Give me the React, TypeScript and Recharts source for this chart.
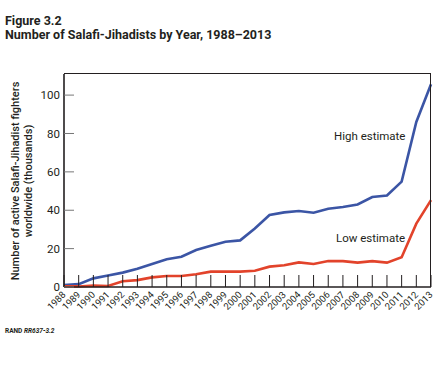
import React from "react";
import { LineChart, Line, XAxis, YAxis } from "recharts";

const years = [
  "1988", "1989", "1990", "1991", "1992", "1993", "1994", "1995", "1996",
  "1997", "1998", "1999", "2000", "2001", "2002", "2003", "2004", "2005",
  "2006", "2007", "2008", "2009", "2010", "2011", "2012", "2013",
];

// thousands of fighters
const highEstimate = [
  1, 1.5, 4.5, 6, 7.5, 9.5, 12, 14.5, 15.8, 19.3, 21.5, 23.6, 24.3,
  30.5, 37.5, 38.9, 39.6, 38.7, 40.8, 41.7, 43, 46.9, 47.7, 54.9, 86, 105.7,
];
const lowEstimate = [
  0.3, 0.3, 0.7, 0.5, 3, 3.6, 5, 5.7, 5.7, 6.6, 8, 8, 8,
  8.5, 10.6, 11.3, 12.8, 12, 13.5, 13.5, 12.7, 13.5, 12.7, 15.5, 33, 45.3,
];
const yTicks = [0, 20, 40, 60, 80, 100];

const data = years.map((year, i) => ({
  year,
  high: highEstimate[i],
  low: lowEstimate[i],
}));

const INK = "#231f20";
const FONT = "Roboto, 'Noto Sans', sans-serif";

const YTick = ({ x, y, payload }: any) => (
  <text x={x} y={y} dy="0.36em" textAnchor="end" fontSize={11.5} fill={INK} fontFamily={FONT}>
    {payload.value}
  </text>
);

const XTick = ({ x, y, payload }: any) => (
  <text
    x={x}
    y={y}
    dy="0.35em"
    textAnchor="end"
    fontSize={9.5}
    fill={INK}
    fontFamily={FONT}
    transform={`rotate(-45 ${x} ${y})`}
  >
    {payload.value}
  </text>
);

export default function App() {
  return (
    <div
      style={{
        position: "absolute",
        left: 0,
        top: 0,
        width: 440,
        height: 389,
        background: "#fff",
        fontFamily: FONT,
        color: INK,
      }}
    >
      <div style={{ position: "absolute", left: 5, top: 14, fontSize: 12.5, fontWeight: 700, lineHeight: "14px" }}>
        Figure 3.2
        <br />
        Number of Salafi-Jihadists by Year, 1988–2013
      </div>

      <LineChart
        width={440}
        height={389}
        data={data}
        margin={{ top: 74, right: 9, left: 0, bottom: 0 }}
      >
        <XAxis
          dataKey="year"
          interval={0}
          height={102}
          tickSize={-12}
          tickMargin={18}
          tick={<XTick />}
          axisLine={{ stroke: INK, strokeWidth: 1.6 }}
          tickLine={{ stroke: INK, strokeWidth: 1 }}
        />
        <YAxis
          width={64}
          domain={[0, 111]}
          ticks={yTicks}
          tickSize={-10}
          tickMargin={14}
          tick={<YTick />}
          axisLine={{ stroke: INK, strokeWidth: 1.6 }}
          tickLine={{ stroke: "#777", strokeWidth: 1 }}
        />
        <Line
          dataKey="high"
          stroke="#3b55a5"
          strokeWidth={2.6}
          dot={false}
          isAnimationActive={false}
        />
        <Line
          dataKey="low"
          stroke="#e2432b"
          strokeWidth={2.6}
          dot={false}
          isAnimationActive={false}
        />
      </LineChart>

      {/* plot frame: top and right edges */}
      <div
        style={{
          position: "absolute",
          left: 64,
          top: 73,
          width: 367,
          height: 214,
          borderTop: `1.6px solid ${INK}`,
          borderRight: `1.6px solid ${INK}`,
          boxSizing: "border-box",
          pointerEvents: "none",
        }}
      />

      <div style={{ position: "absolute", left: 22, top: 181, width: 0, height: 0 }}>
        <div
          style={{
            position: "absolute",
            transform: "translate(-50%, -50%) rotate(-90deg)",
            whiteSpace: "nowrap",
            textAlign: "center",
            fontSize: 11,
            fontWeight: 500,
            lineHeight: "13px",
          }}
        >
          Number of active Salafi-Jihadist fighters
          <br />
          worldwide (thousands)
        </div>
      </div>

      <div style={{ position: "absolute", left: 334, top: 129, fontSize: 11.5 }}>High estimate</div>
      <div style={{ position: "absolute", left: 336, top: 231, fontSize: 11.5 }}>Low estimate</div>

      <div style={{ position: "absolute", left: 5, top: 327, fontSize: 6.5, fontWeight: 700 }}>
        RAND <i>RR637-3.2</i>
      </div>
    </div>
  );
}
